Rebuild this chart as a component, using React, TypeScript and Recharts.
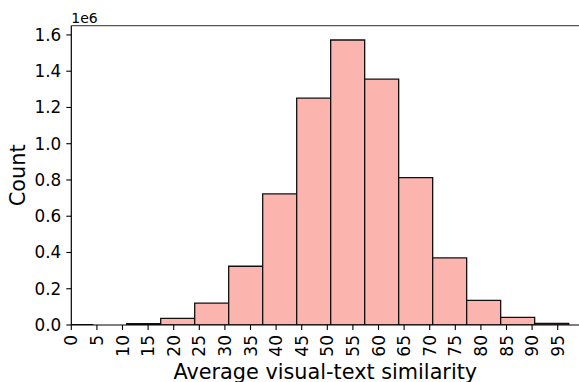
import React from "react";
import { ComposedChart, Bar, XAxis, YAxis, Label, ReferenceLine } from "recharts";

// Histogram bin edges (similarity units) and counts per bin
const binEdges = [-2.46, 4.18, 10.82, 17.46, 24.1, 30.74, 37.38, 44.02, 50.66, 57.3, 63.94, 70.58, 77.22, 83.86, 90.5, 97.14];
const binCounts = [2500, 0, 7000, 37000, 121000, 324000, 723000, 1251000, 1572000, 1356000, 813000, 370000, 136000, 42000, 9000];
const xTicks = [0, 5, 10, 15, 20, 25, 30, 35, 40, 45, 50, 55, 60, 65, 70, 75, 80, 85, 90, 95];
const yTicks = [0, 200000, 400000, 600000, 800000, 1000000, 1200000, 1400000, 1600000];
const xDomain = [0, 100];
const yDomain = [0, 1651000];
const xLabel = "Average visual-text similarity";
const yLabel = "Count";
const offsetText = "1e6";

const data = binCounts.map((count, i) => ({
  center: (binEdges[i] + binEdges[i + 1]) / 2,
  count,
}));

const FONT = "'DejaVu Sans', sans-serif";

const XTick = (props: any) => {
  const { x, y, payload } = props;
  return (
    <text
      transform={`translate(${x},${y}) rotate(-90)`}
      textAnchor="end"
      dy="0.36em"
      fontSize={17}
      fontFamily={FONT}
      fill="#000"
    >
      {payload.value}
    </text>
  );
};

export default function App() {
  return (
    <div style={{ position: "absolute", left: 0, top: 0, width: 579, height: 382, overflow: "hidden", background: "#fff" }}>
      <ComposedChart
        width={600}
        height={382}
        data={data}
        margin={{ top: 25.7, right: 16.7, bottom: 0, left: 0 }}
        barCategoryGap={0}
        barGap={0}
      >
        <XAxis
          type="number"
          dataKey="center"
          domain={xDomain}
          allowDataOverflow
          ticks={xTicks}
          interval={0}
          height={57}
          tickSize={5}
          tickMargin={5}
          tick={<XTick />}
          tickLine={{ stroke: "#000", strokeWidth: 1.1 }}
          axisLine={{ stroke: "#000", strokeWidth: 1.2 }}
        >
          <Label
            content={(p: any) => {
              const vb = p.viewBox;
              return (
                <text x={vb.x + vb.width / 2 - 2} y={378.5} textAnchor="middle" fontSize={20.8} fontFamily={FONT} fill="#000">
                  {xLabel}
                </text>
              );
            }}
          />
        </XAxis>
        <YAxis
          type="number"
          domain={yDomain}
          allowDataOverflow
          ticks={yTicks}
          interval={0}
          width={71.3}
          tickSize={5}
          tickMargin={5}
          tickFormatter={(v: number) => (v / 1e6).toFixed(1)}
          tick={{ fontSize: 16.8, fontFamily: FONT, fill: "#000" }}
          tickLine={{ stroke: "#000", strokeWidth: 1.1 }}
          axisLine={{ stroke: "#000", strokeWidth: 1.2 }}
        >
          <Label
            content={(p: any) => {
              const vb = p.viewBox;
              const cy = vb.y + vb.height / 2;
              return (
                <text
                  transform={`translate(25,${cy}) rotate(-90)`}
                  textAnchor="middle"
                  fontSize={20.8}
                  fontFamily={FONT}
                  fill="#000"
                >
                  {yLabel}
                </text>
              );
            }}
          />
          <Label
            content={(p: any) => {
              const vb = p.viewBox;
              return (
                <text x={vb.x + vb.width} y={vb.y - 3} textAnchor="start" fontSize={14} fontFamily={FONT} fill="#000">
                  {offsetText}
                </text>
              );
            }}
          />
        </YAxis>
        <ReferenceLine y={yDomain[1]} stroke="#555" strokeWidth={1.3} />
        <Bar
          dataKey="count"
          fill="#fbb4ae"
          stroke="#111"
          strokeWidth={1.3}
          isAnimationActive={false}
        />
      </ComposedChart>
    </div>
  );
}
